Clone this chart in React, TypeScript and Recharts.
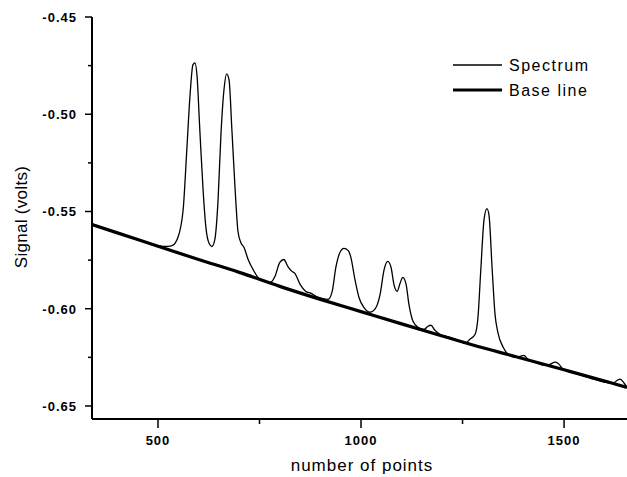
import React from 'react';
import { LineChart, Line, XAxis, YAxis, Customized } from 'recharts';

// number of points (x) and signal in volts (y)
const spectrumX = [
  337, 406, 480, 517, 535, 549, 562, 571, 579, 586, 591, 596, 603, 611, 618, 626,
  633, 640, 648, 655, 663, 669, 675, 682, 690, 697, 704, 712, 722, 734, 751, 776,
  788, 800, 810, 820, 830, 837, 850, 864, 877, 889, 904, 919, 929, 938, 948, 958,
  968, 975, 985, 995, 1007, 1022, 1034, 1047, 1057, 1066, 1074, 1081, 1089, 1096,
  1103, 1111, 1118, 1128, 1140, 1155, 1165, 1172, 1182, 1194, 1219, 1244, 1256,
  1268, 1281, 1288, 1295, 1303, 1310, 1315, 1323, 1330, 1337, 1350, 1362, 1379,
  1392, 1401, 1411, 1428, 1453, 1465, 1478, 1488, 1497, 1527, 1564, 1601, 1621,
  1631, 1638, 1648, 1655,
];
const spectrumY = [
  -0.5562, -0.5613, -0.5665, -0.568, -0.5675, -0.5634, -0.549, -0.5182, -0.49,
  -0.4746, -0.4736, -0.4798, -0.508, -0.5388, -0.5582, -0.5665, -0.568, -0.5644,
  -0.5439, -0.5105, -0.4864, -0.4792, -0.4823, -0.508, -0.5388, -0.5603, -0.5659,
  -0.5685, -0.5747, -0.5798, -0.5849, -0.5865, -0.5834, -0.5762, -0.5747, -0.5783,
  -0.5808, -0.5818, -0.5875, -0.5911, -0.5921, -0.5936, -0.5947, -0.5952, -0.5911,
  -0.5788, -0.5711, -0.569, -0.57, -0.5736, -0.5849, -0.5942, -0.5993, -0.6018,
  -0.6003, -0.5926, -0.5798, -0.5757, -0.5788, -0.5875, -0.5911, -0.587, -0.5839,
  -0.5875, -0.5978, -0.6065, -0.6095, -0.6106, -0.609, -0.6085, -0.6111, -0.6131,
  -0.6147, -0.6167, -0.6178, -0.6157, -0.6131, -0.6044, -0.5798, -0.5541, -0.5485,
  -0.5516, -0.5798, -0.6029, -0.6121, -0.6198, -0.6234, -0.625, -0.6245, -0.624,
  -0.626, -0.6275, -0.6291, -0.6286, -0.6275, -0.6286, -0.6311, -0.6332, -0.6357,
  -0.6378, -0.6383, -0.6368, -0.6362, -0.6383, -0.6403,
];

const baselineX = [337, 400, 500, 600, 700, 800, 900, 1000, 1100, 1200, 1300, 1400, 1500, 1600, 1655];
const baselineY = [
  -0.5567, -0.561, -0.5679, -0.5747, -0.5813, -0.5885, -0.5952, -0.6015, -0.6078,
  -0.614, -0.6201, -0.6257, -0.6314, -0.6372, -0.6405,
];

const xTicks = [500, 750, 1000, 1250, 1500];
const xLabeled = [500, 1000, 1500];
const yTicks = [-0.65, -0.625, -0.6, -0.575, -0.55, -0.525, -0.5, -0.475, -0.45];
const yLabeled = [-0.65, -0.6, -0.55, -0.5, -0.45];

const spectrum = spectrumX.map((x, i) => ({ x, y: spectrumY[i] }));
const baseline = baselineX.map((x, i) => ({ x, y: baselineY[i] }));

const FONT = '"Liberation Sans", Arial, sans-serif';

const XTick = (props: any) => {
  const { x, y, payload } = props;
  const major = xLabeled.includes(payload.value);
  return (
    <g>
      <line x1={x} x2={x} y1={y} y2={y + (major ? 9 : 5)} stroke="#000" strokeWidth={1.5} />
      {major && (
        <text x={x} y={y + 26} textAnchor="middle" fontFamily={FONT} fontSize={13} fontWeight="bold" letterSpacing={1} fill="#000">
          {payload.value}
        </text>
      )}
    </g>
  );
};

const YTick = (props: any) => {
  const { x, y, payload } = props;
  const major = yLabeled.some((v) => Math.abs(v - payload.value) < 1e-6);
  return (
    <g>
      <line x1={x - (major ? 7 : 4)} x2={x} y1={y} y2={y} stroke="#000" strokeWidth={1.5} />
      {major && (
        <text x={x - 15} y={y + 5} textAnchor="end" fontFamily={FONT} fontSize={13} fontWeight="bold" letterSpacing={1} fill="#000">
          {payload.value.toFixed(2)}
        </text>
      )}
    </g>
  );
};

const Extras = () => (
  <g fontFamily={FONT} fill="#000">
    <text x={362} y={471} textAnchor="middle" fontSize={17} letterSpacing={1}>number of points</text>
    <text x={0} y={0} transform="translate(27,217) rotate(-90)" textAnchor="middle" fontSize={17} letterSpacing={0.3}>
      Signal (volts)
    </text>
    <line x1={453} x2={502} y1={65} y2={65} stroke="#000" strokeWidth={1.3} />
    <text x={509} y={71} fontSize={16} letterSpacing={1.5}>Spectrum</text>
    <line x1={453} x2={502} y1={90} y2={90} stroke="#000" strokeWidth={3} />
    <text x={509} y={96} fontSize={16} letterSpacing={1.5}>Base line</text>
  </g>
);

export default function App() {
  return (
    <div style={{ position: 'absolute', left: 0, top: 0, width: 627, height: 477, overflow: 'hidden', background: '#fff' }}>
      <LineChart width={627} height={477} margin={{ top: 17, right: 0, bottom: 0, left: 0 }}>
        <XAxis
          xAxisId="bottom"
          dataKey="x"
          type="number"
          domain={[337.5, 1655]}
          ticks={xTicks}
          height={58}
          allowDataOverflow
          axisLine={{ stroke: '#000', strokeWidth: 2 }}
          tickLine={false}
          tickSize={0}
          tickMargin={0}
          tick={<XTick />}
        />
        <XAxis
          xAxisId="top"
          orientation="top"
          dataKey="x"
          type="number"
          domain={[337.5, 1655]}
          height={0}
          tick={false}
          tickLine={false}
          axisLine={{ stroke: '#000', strokeWidth: 2 }}
        />
        <YAxis
          dataKey="y"
          type="number"
          domain={[-0.6567, -0.45]}
          ticks={yTicks}
          width={92}
          allowDataOverflow
          axisLine={{ stroke: '#000', strokeWidth: 2 }}
          tickLine={false}
          tickSize={0}
          tickMargin={0}
          tick={<YTick />}
          interval={0}
        />
        <Line
          xAxisId="bottom"
          data={spectrum}
          dataKey="y"
          type="monotone"
          stroke="#000"
          strokeWidth={1.3}
          dot={false}
          isAnimationActive={false}
        />
        <Line
          xAxisId="bottom"
          data={baseline}
          dataKey="y"
          type="monotone"
          stroke="#000"
          strokeWidth={3.2}
          dot={false}
          isAnimationActive={false}
        />
        <Customized component={<Extras />} />
      </LineChart>
    </div>
  );
}
